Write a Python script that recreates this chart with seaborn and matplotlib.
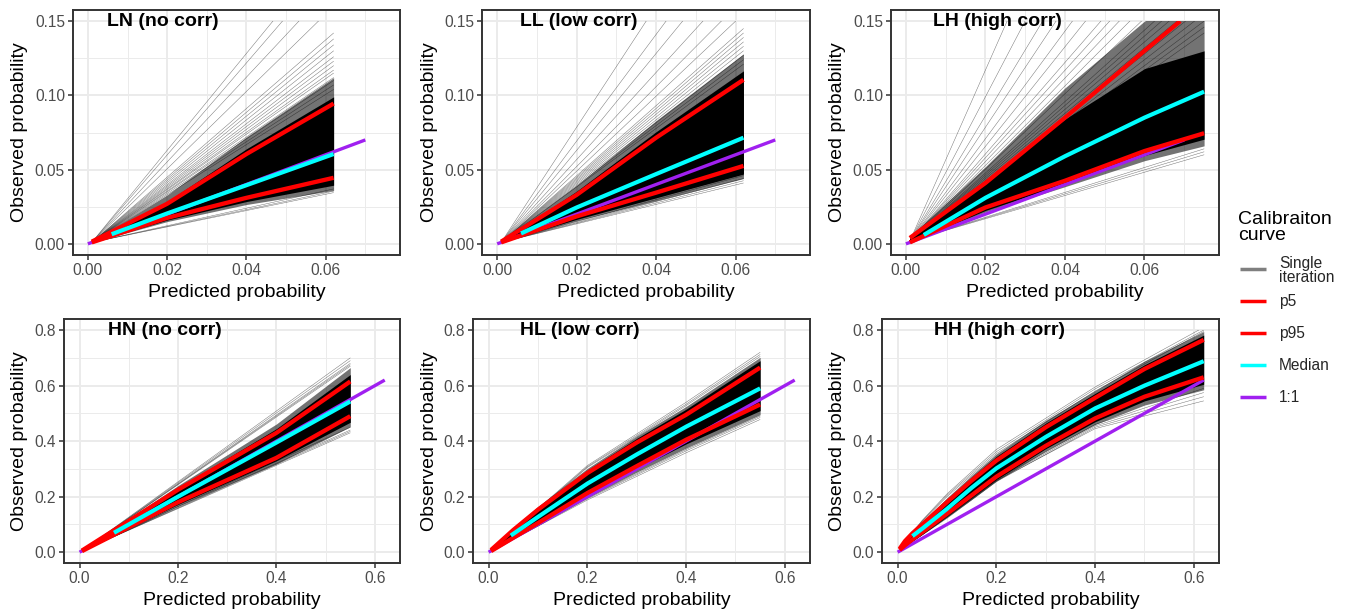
import numpy as np
import pandas as pd
import matplotlib
matplotlib.use("Agg")
import matplotlib.pyplot as plt
from matplotlib.lines import Line2D
from matplotlib.patches import Rectangle
import seaborn as sns

# ------------------------------------------------------------------ data
# LN (no corr)
LN_x = [0.001, 0.02, 0.04, 0.062]
LN_p5 = [0.001, 0.0175, 0.031, 0.0445]
LN_p95 = [0.0015, 0.027, 0.0605, 0.0945]
LN_med_x = [0.006, 0.02, 0.04, 0.062]
LN_med = [0.0065, 0.0205, 0.0395, 0.0605]
LN_core_lo = [0.001, 0.0160, 0.0285, 0.0395]
LN_core_hi = [0.0016, 0.0285, 0.0640, 0.0990]
LN_mid_lo = [0.001, 0.0150, 0.0265, 0.0360]
LN_mid_hi = [0.0018, 0.0330, 0.0720, 0.1120]
LN_fringe_x = [0.001, 0.062]
LN_fringe_end = [0.0345, 0.0355, 0.037, 0.104, 0.107, 0.110, 0.112, 0.115, 0.117,
                 0.120, 0.123, 0.126, 0.130, 0.134, 0.138, 0.142, 0.16, 0.175,
                 0.19, 0.20]

# LL (low corr)
LL_x = [0.001, 0.02, 0.04, 0.062]
LL_p5 = [0.001, 0.0185, 0.0345, 0.0525]
LL_p95 = [0.0015, 0.033, 0.0715, 0.1105]
LL_med_x = [0.006, 0.02, 0.04, 0.062]
LL_med = [0.007, 0.0245, 0.047, 0.0715]
LL_core_lo = [0.001, 0.0165, 0.031, 0.047]
LL_core_hi = [0.0016, 0.0355, 0.0755, 0.1165]
LL_mid_lo = [0.001, 0.0155, 0.0290, 0.0440]
LL_mid_hi = [0.0018, 0.0395, 0.0830, 0.1280]
LL_fringe_x = [0.001, 0.062]
LL_fringe_end = [0.041, 0.0425, 0.044, 0.046, 0.121, 0.124, 0.127, 0.130, 0.133,
                 0.136, 0.139, 0.142, 0.145, 0.155, 0.165, 0.18, 0.20, 0.22, 0.25]

# LH (high corr)
LH_x = [0.001, 0.02, 0.04, 0.06, 0.075]
LH_p5 = [0.001, 0.0245, 0.0425, 0.0625, 0.0745]
LH_p95_x = [0.001, 0.02, 0.04, 0.06, 0.069]
LH_p95 = [0.004, 0.041, 0.085, 0.130, 0.150]
LH_med_x = [0.0045, 0.02, 0.04, 0.06, 0.075]
LH_med = [0.006, 0.031, 0.059, 0.085, 0.1025]
LH_core_lo = [0.001, 0.0225, 0.0405, 0.0595, 0.0705]
LH_core_hi = [0.004, 0.043, 0.084, 0.118, 0.130]
LH_mid_lo = [0.001, 0.0215, 0.0385, 0.0560, 0.0660]
LH_mid_hi = [0.005, 0.052, 0.105, 0.150, 0.170]
LH_fringe_x = [0.001, 0.075]
LH_fringe_end = [0.060, 0.062, 0.064, 0.142, 0.146, 0.150, 0.155, 0.16, 0.165,
                 0.17, 0.175, 0.18, 0.19, 0.2, 0.21, 0.22, 0.23, 0.25, 0.27,
                 0.30, 0.33, 0.38, 0.45]

# HN (no corr)
HN_x = [0.005, 0.2, 0.4, 0.55]
HN_p5 = [0.004, 0.18, 0.34, 0.49]
HN_p95 = [0.006, 0.225, 0.43, 0.615]
HN_med_x = [0.07, 0.2, 0.4, 0.55]
HN_med = [0.07, 0.2, 0.395, 0.543]
HN_core_lo = [0.004, 0.172, 0.33, 0.468]
HN_core_hi = [0.007, 0.232, 0.445, 0.64]
HN_mid_lo = [0.004, 0.165, 0.318, 0.452]
HN_mid_hi = [0.007, 0.240, 0.462, 0.665]
HN_fringe_x = [0.005, 0.55]
HN_fringe_end = [0.43, 0.435, 0.44, 0.45, 0.67, 0.675, 0.68, 0.69, 0.70]

# HL (low corr)
HL_x = [0.005, 0.05, 0.1, 0.2, 0.3, 0.4, 0.55]
HL_p5 = [0.004, 0.052, 0.105, 0.213, 0.31, 0.405, 0.532]
HL_p95 = [0.008, 0.080, 0.153, 0.285, 0.395, 0.495, 0.665]
HL_med_x = [0.045, 0.1, 0.2, 0.3, 0.4, 0.55]
HL_med = [0.06, 0.127, 0.247, 0.352, 0.452, 0.59]
HL_core_lo = [0.004, 0.050, 0.100, 0.205, 0.300, 0.390, 0.510]
HL_core_hi = [0.009, 0.085, 0.160, 0.295, 0.410, 0.515, 0.690]
HL_mid_lo = [0.004, 0.048, 0.096, 0.197, 0.288, 0.375, 0.495]
HL_mid_hi = [0.009, 0.088, 0.165, 0.302, 0.418, 0.525, 0.702]
HL_fringe_x = [0.005, 0.2, 0.4, 0.55]
HL_fringe_lines = [[0.01, 0.305, 0.528, 0.705],
                   [0.01, 0.308, 0.533, 0.712],
                   [0.01, 0.312, 0.540, 0.720],
                   [0.004, 0.195, 0.370, 0.490],
                   [0.004, 0.192, 0.365, 0.485],
                   [0.004, 0.188, 0.358, 0.478]]

# HH (high corr)
HH_x = [0.004, 0.015, 0.03, 0.05, 0.1, 0.15, 0.2, 0.3, 0.4, 0.5, 0.62]
HH_p5 = [0.008, 0.025, 0.046, 0.072, 0.138, 0.205, 0.272, 0.383, 0.482, 0.56, 0.63]
HH_p95 = [0.012, 0.040, 0.068, 0.100, 0.180, 0.258, 0.330, 0.450, 0.556, 0.66, 0.765]
HH_med_x = [0.03, 0.05, 0.1, 0.15, 0.2, 0.3, 0.4, 0.5, 0.62]
HH_med = [0.058, 0.085, 0.156, 0.232, 0.302, 0.415, 0.518, 0.60, 0.688]
HH_core_lo = [0.006, 0.022, 0.042, 0.066, 0.130, 0.196, 0.262, 0.373, 0.470, 0.545, 0.605]
HH_core_hi = [0.014, 0.043, 0.072, 0.106, 0.190, 0.270, 0.345, 0.465, 0.572, 0.675, 0.782]
HH_mid_lo = [0.006, 0.021, 0.040, 0.064, 0.126, 0.190, 0.256, 0.364, 0.460, 0.530, 0.585]
HH_mid_hi = [0.015, 0.045, 0.075, 0.110, 0.196, 0.277, 0.354, 0.475, 0.582, 0.688, 0.795]
HH_fringe_x = [0.004, 0.05, 0.1, 0.2, 0.4, 0.62]
HH_fringe_lines = [[0.015, 0.115, 0.210, 0.370, 0.595, 0.81],
                   [0.015, 0.113, 0.205, 0.362, 0.588, 0.80],
                   [0.015, 0.111, 0.200, 0.355, 0.580, 0.795],
                   [0.006, 0.062, 0.122, 0.254, 0.450, 0.56],
                   [0.006, 0.063, 0.126, 0.258, 0.455, 0.575],
                   [0.006, 0.064, 0.128, 0.262, 0.460, 0.59],
                   [0.006, 0.063, 0.125, 0.257, 0.445, 0.545]]

# 1:1 reference lines
TOP_diag = [0.0, 0.07]
BOT_diag = [0.0, 0.62]

titles = ["LN (no corr)", "LL (low corr)", "LH (high corr)",
          "HN (no corr)", "HL (low corr)", "HH (high corr)"]
legend_labels = ["Single\niteration", "p5", "p95", "Median", "1:1"]

# ------------------------------------------------------------------ style
W, H = 1345, 612
sns.set_theme(style="white")
plt.rcParams["font.family"] = ["Liberation Sans", "DejaVu Sans"]

RED = "#FF0000"
CYAN = "#00FFFF"
PURPLE = "#A020F0"
GREY_KEY = "#7F7F7F"


def straight(ends, start):
    return [[start, e] for e in ends]


panels = [
    dict(x=LN_x, p5=LN_p5, p5x=LN_x, p95=LN_p95, p95x=LN_x, mx=LN_med_x, med=LN_med,
         lo=LN_core_lo, hi=LN_core_hi, mlo=LN_mid_lo, mhi=LN_mid_hi, fx=LN_fringe_x,
         fy=straight(LN_fringe_end, 0.001), diag=TOP_diag, top=True),
    dict(x=LL_x, p5=LL_p5, p5x=LL_x, p95=LL_p95, p95x=LL_x, mx=LL_med_x, med=LL_med,
         lo=LL_core_lo, hi=LL_core_hi, mlo=LL_mid_lo, mhi=LL_mid_hi, fx=LL_fringe_x,
         fy=straight(LL_fringe_end, 0.001), diag=TOP_diag, top=True),
    dict(x=LH_x, p5=LH_p5, p5x=LH_x, p95=LH_p95, p95x=LH_p95_x, mx=LH_med_x, med=LH_med,
         lo=LH_core_lo, hi=LH_core_hi, mlo=LH_mid_lo, mhi=LH_mid_hi, fx=LH_fringe_x,
         fy=straight(LH_fringe_end, 0.002), diag=TOP_diag, top=True),
    dict(x=HN_x, p5=HN_p5, p5x=HN_x, p95=HN_p95, p95x=HN_x, mx=HN_med_x, med=HN_med,
         lo=HN_core_lo, hi=HN_core_hi, mlo=HN_mid_lo, mhi=HN_mid_hi, fx=HN_fringe_x,
         fy=straight(HN_fringe_end, 0.005), diag=BOT_diag, top=False),
    dict(x=HL_x, p5=HL_p5, p5x=HL_x, p95=HL_p95, p95x=HL_x, mx=HL_med_x, med=HL_med,
         lo=HL_core_lo, hi=HL_core_hi, mlo=HL_mid_lo, mhi=HL_mid_hi, fx=HL_fringe_x,
         fy=HL_fringe_lines, diag=BOT_diag, top=False),
    dict(x=HH_x, p5=HH_p5, p5x=HH_x, p95=HH_p95, p95x=HH_x, mx=HH_med_x, med=HH_med,
         lo=HH_core_lo, hi=HH_core_hi, mlo=HH_mid_lo, mhi=HH_mid_hi, fx=HH_fringe_x,
         fy=HH_fringe_lines, diag=BOT_diag, top=False),
]

# axes boxes in pixels: left, right, top, bottom
boxes = [(73, 400, 10, 255), (482.3, 810, 10, 255), (891, 1219, 10, 255),
         (64.3, 400, 319, 563.3), (473.3, 810, 319, 563.3), (882.3, 1219, 319, 563.3)]
title_pos = [(107, 26), (520, 26), (933, 26), (108, 335), (520, 335), (934, 335)]
ylab_x = [24, 434, 842, 24, 434, 842]

fig = plt.figure(figsize=(W / 100, H / 100), dpi=100)
fig.patch.set_facecolor("white")


def fx_(px):
    return px / W


def fy_(py):
    return 1 - py / H


for i, (p, (l, r, t, b)) in enumerate(zip(panels, boxes)):
    ax = fig.add_axes([fx_(l), fy_(b), (r - l) / W, (b - t) / H])
    ax.set_facecolor("white")
    if p["top"]:
        xlim = (-0.00375, 0.07875); ylim = (-0.0075, 0.1575); ycap = 0.15
        xt = [0.0, 0.02, 0.04, 0.06]; xtl = ["0.00", "0.02", "0.04", "0.06"]
        xm = [0.01, 0.03, 0.05, 0.07]
        yt = [0.0, 0.05, 0.10, 0.15]; ytl = ["0.00", "0.05", "0.10", "0.15"]
        ym = [0.025, 0.075, 0.125]
    else:
        xlim = (-0.031, 0.651); ylim = (-0.04, 0.84); ycap = 0.8
        xt = [0.0, 0.2, 0.4, 0.6]; xtl = ["0.0", "0.2", "0.4", "0.6"]
        xm = [0.1, 0.3, 0.5]
        yt = [0.0, 0.2, 0.4, 0.6, 0.8]; ytl = ["0.0", "0.2", "0.4", "0.6", "0.8"]
        ym = [0.1, 0.3, 0.5, 0.7]

    # single iterations: dense band of lines + core + fringe lines
    ax.fill_between(p["x"], p["mlo"], p["mhi"], color="black", alpha=0.55, lw=0, zorder=2)
    ax.fill_between(p["x"], p["lo"], p["hi"], color="black", lw=0, zorder=2)
    rows = []
    for k, ys in enumerate(p["fy"]):
        for xv, yv in zip(p["fx"], ys):
            rows.append((k, xv, yv))
    df_it = pd.DataFrame(rows, columns=["iter", "x", "y"])
    sns.lineplot(data=df_it, x="x", y="y", units="iter", estimator=None, sort=False,
                 color="black", lw=0.35, alpha=0.55, ax=ax, legend=False, zorder=2)
    # 1:1
    sns.lineplot(x=p["diag"], y=p["diag"], estimator=None, sort=False, color=PURPLE,
                 lw=2.4, ax=ax, legend=False, zorder=3, solid_capstyle="butt")
    # percentiles
    sns.lineplot(x=p["p5x"], y=p["p5"], estimator=None, sort=False, color=RED,
                 lw=3.1, ax=ax, legend=False, zorder=4, solid_capstyle="butt",
                 solid_joinstyle="round")
    sns.lineplot(x=p["p95x"], y=p["p95"], estimator=None, sort=False, color=RED,
                 lw=3.1, ax=ax, legend=False, zorder=4, solid_capstyle="butt",
                 solid_joinstyle="round")
    # median
    sns.lineplot(x=p["mx"], y=p["med"], estimator=None, sort=False, color=CYAN,
                 lw=3.0, ax=ax, legend=False, zorder=5, solid_capstyle="butt",
                 solid_joinstyle="round")

    clip = Rectangle((xlim[0], ylim[0]), xlim[1] - xlim[0], ycap - ylim[0],
                     transform=ax.transData, facecolor="none", edgecolor="none")
    for art in list(ax.lines) + list(ax.collections):
        art.set_clip_path(clip)

    ax.set_xlim(xlim); ax.set_ylim(ylim)
    ax.set_xticks(xt); ax.set_xticklabels(xtl)
    ax.set_yticks(yt); ax.set_yticklabels(ytl)
    ax.set_xticks(xm, minor=True); ax.set_yticks(ym, minor=True)
    ax.grid(True, which="major", color="#EBEBEB", lw=1.4)
    ax.grid(True, which="minor", color="#EBEBEB", lw=0.7)
    ax.set_axisbelow(True)
    ax.set_xlabel(""); ax.set_ylabel("")
    for s in ax.spines.values():
        s.set_color("#333333"); s.set_linewidth(1.4); s.set_visible(True)
        s.set_zorder(10)
    ax.tick_params(which="major", length=3.6, width=1.1, color="#333333",
                   labelsize=11.2, labelcolor="#4D4D4D", pad=2.2,
                   bottom=True, left=True)
    ax.tick_params(which="minor", length=0, bottom=False, left=False)

    # texts
    tx, ty = title_pos[i]
    fig.text(fx_(tx), fy_(ty), titles[i], fontsize=14, fontweight="bold",
             ha="left", va="baseline", color="black")
    xc = (l + r) / 2
    fig.text(fx_(xc), fy_(b + 42), "Predicted probability", fontsize=14,
             ha="center", va="baseline", color="black")
    fig.text(fx_(ylab_x[i]), fy_((t + b) / 2), "Observed probability", fontsize=14,
             rotation=90, rotation_mode="anchor", ha="center", va="baseline",
             color="black")

# ------------------------------------------------------------------ legend
fig.text(fx_(1238.3), fy_(223.5), "Calibraiton", fontsize=14, ha="left",
         va="baseline", color="black")
fig.text(fx_(1238.3), fy_(240), "curve", fontsize=14, ha="left",
         va="baseline", color="black")
key_y = [269.3, 301, 332.7, 365, 396.7]
key_c = [GREY_KEY, RED, RED, CYAN, PURPLE]
for lab, yk, c in zip(legend_labels, key_y, key_c):
    fig.add_artist(Line2D([fx_(1240), fx_(1266)], [fy_(yk), fy_(yk)],
                          transform=fig.transFigure, color=c, lw=2.5,
                          solid_capstyle="butt"))
    if "\n" in lab:
        a, bb = lab.split("\n")
        fig.text(fx_(1279), fy_(267.8), a, fontsize=11.2, ha="left", va="baseline")
        fig.text(fx_(1279), fy_(282.3), bb, fontsize=11.2, ha="left", va="baseline")
    else:
        fig.text(fx_(1279), fy_(yk + 5.4), lab, fontsize=11.2, ha="left", va="baseline")

fig.savefig("out.png", dpi=100, facecolor="white")
